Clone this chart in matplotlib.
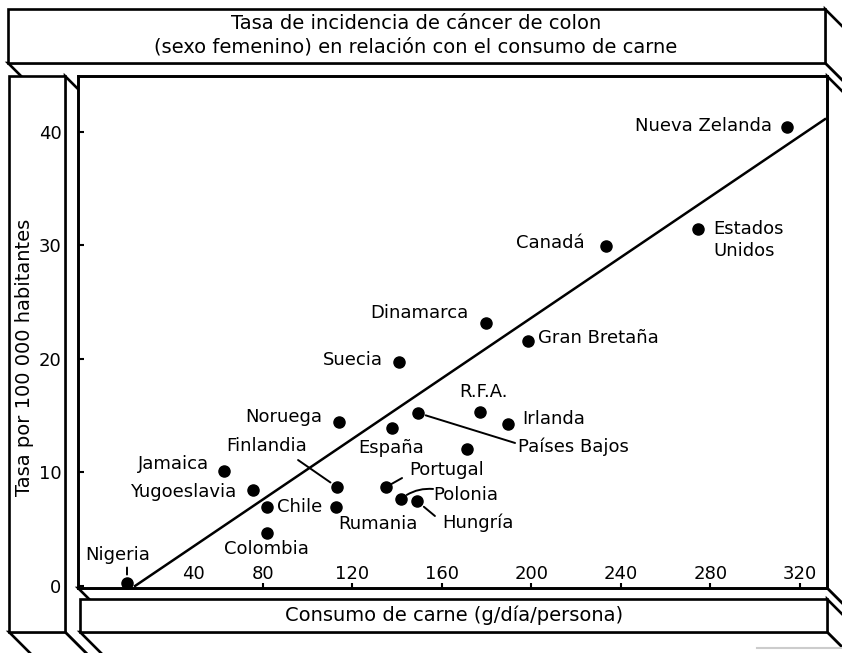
import matplotlib.pyplot as plt
from matplotlib.patches import Polygon
from matplotlib.transforms import ScaledTranslation

# Values
countries = ["Nigeria", "Jamaica", "Yugoeslavia", "Chile", "Colombia", "Noruega",
             "Finlandia", "Rumania", "España", "Países Bajos", "Portugal", "Polonia",
             "Hungría", "R.F.A.", "Irlanda", "", "Suecia", "Dinamarca", "Gran Bretaña",
             "Canadá", "Estados\nUnidos", "Nueva Zelanda"]
meat = [19.2, 62.6, 75.5, 81.8, 81.8, 114.0, 113.1, 112.6, 137.7, 149.3, 135.0, 141.7,
        148.8, 177.0, 189.5, 171.2, 140.8, 179.7, 198.4, 233.3, 274.4, 314.2]
rate = [0.3, 10.1, 8.45, 6.95, 4.67, 14.44, 8.71, 6.95, 13.9, 15.23, 8.71, 7.66,
        7.48, 15.32, 14.26, 12.06, 19.72, 23.15, 21.57, 29.93, 31.43, 40.4]
trend_x = [22.8, 331.2]
trend_y = [0.0, 41.1]
x_ticks = [40, 80, 120, 160, 200, 240, 280, 320]
y_ticks = [0, 10, 20, 30, 40]

title = "Tasa de incidencia de cáncer de colon\n(sexo femenino) en relación con el consumo de carne"
xlabel = "Consumo de carne (g/día/persona)"
ylabel = "Tasa por 100 000 habitantes"

# label placement: offset from the dot in pixels (y up) and alignment
label_pos = {
    "Nigeria": (-9, 28, "center"), "Jamaica": (-15, 7, "right"),
    "Yugoeslavia": (-17, -2, "right"), "Chile": (10, 0, "left"),
    "Colombia": (-1, -16, "center"), "Noruega": (-17, 5, "right"),
    "Finlandia": (-70, 41, "center"), "Rumania": (42, -17, "center"),
    "España": (-1, -20, "center"), "Países Bajos": (100, -34, "left"),
    "Portugal": (23, 17, "left"), "Polonia": (32, 4, "left"),
    "Hungría": (25, -22, "left"), "R.F.A.": (3, 20, "center"),
    "Irlanda": (14, 5, "left"), "Suecia": (-16, 2, "right"),
    "Dinamarca": (-18, 10, "right"), "Gran Bretaña": (10, 3, "left"),
    "Canadá": (-21, 3, "right"), "Estados\nUnidos": (15, -11, "left"),
    "Nueva Zelanda": (-15, 1, "right"),
}
# leader lines: far end offset (px), gap at the dot (px), curvature
leaders = {
    "Nigeria": (0, 15, 8, 0), "Finlandia": (-39, 27, 8, 0),
    "Países Bajos": (97, -30, 8, 0), "Portugal": (16, 9, 5, 0),
    "Polonia": (32, 10, 7, 0.2), "Hungría": (18, -15, 9, 0),
}

W, H = 842, 653
fig = plt.figure(figsize=(W / 100, H / 100), dpi=100)

# background layer in pixel coords for the box drawing
bg = fig.add_axes([0, 0, 1, 1], zorder=-1)
bg.set_xlim(0, W)
bg.set_ylim(H, 0)
bg.axis("off")


def slab(x0, y0, x1, y1, d=40):
    kw = dict(fc="white", ec="black", lw=1.9, joinstyle="miter")
    bg.add_patch(Polygon([(x1, y0), (x1 + d, y0 + d), (x1 + d, y1 + d), (x1, y1)], **kw))
    bg.add_patch(Polygon([(x0, y1), (x1, y1), (x1 + d, y1 + d), (x0 + d, y1 + d)], **kw))
    bg.add_patch(Polygon([(x0, y0), (x1, y0), (x1, y1), (x0, y1)], **kw))


slab(8, 9, 825, 63)
slab(9, 76, 65, 632)
slab(78, 76, 827, 588)
slab(80, 599, 827, 632)
bg.plot([757, 842], [648, 648], color="#cccccc", lw=1.5)

ax = fig.add_axes([78 / W, 1 - 588 / H, (827 - 78) / W, (588 - 76) / H])
ax.patch.set_visible(False)
for s in ax.spines.values():
    s.set_linewidth(1.9)
ax.set_xlim(-2.7, 332.1)
ax.set_ylim(-0.18, 44.9)
ax.set_xticks(x_ticks)
ax.set_yticks(y_ticks)
ax.tick_params(axis="x", direction="in", length=3.5, width=1.5, pad=-16.5, labelsize=13)
ax.tick_params(axis="y", direction="in", length=4, width=1.5, pad=12, labelsize=13)
t0 = ax.xaxis.get_major_ticks()[0]
t0.tick1line.set_visible(False)
t0.label1.set_transform(t0.label1.get_transform()
                        + ScaledTranslation(19.5 / 100, 0, fig.dpi_scale_trans))

ax.plot(trend_x, trend_y, color="black", lw=1.8)
ax.plot(meat, rate, "o", ms=8, color="black", clip_on=False, zorder=3)

for name, x, y in zip(countries, meat, rate):
    if not name:
        continue
    dx, dy, ha = label_pos[name]
    ax.annotate(name, (x, y), xytext=(dx, dy), textcoords="offset pixels",
                ha=ha, va="center", fontsize=13, linespacing=1.3)

for name, (dx, dy, gap, rad) in leaders.items():
    i = countries.index(name)
    ax.annotate("", (meat[i], rate[i]), xytext=(dx, dy), textcoords="offset pixels",
                arrowprops=dict(arrowstyle="-", lw=1.4, color="black", shrinkA=0,
                                shrinkB=gap * 0.72,
                                connectionstyle=f"arc3,rad={rad}"))

fig.text(416 / W, 1 - 35 / H, title, ha="center", va="center", fontsize=14,
         linespacing=1.3)
ax.set_xlabel(xlabel, fontsize=14, va="center")
ax.xaxis.set_label_coords((454 - 78) / 749, (588 - 615) / 512)
ax.set_ylabel(ylabel, fontsize=14, va="center")
ax.yaxis.set_label_coords((25 - 78) / 749, (588 - 357) / 512)

fig.savefig("out.png", dpi=100)
